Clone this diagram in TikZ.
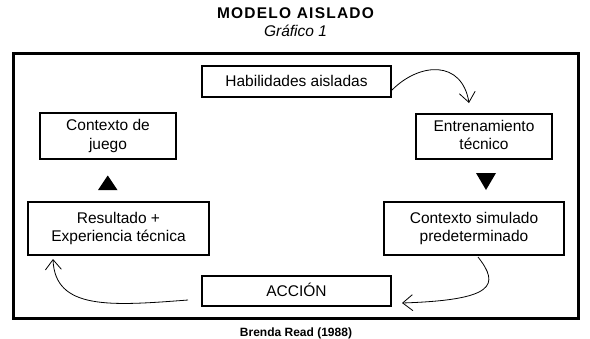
\documentclass[tikz,border=0pt]{standalone}
\usepackage{fontspec}
\setmainfont{Liberation Sans}
\usetikzlibrary{arrows.meta,calc}
\begin{document}
\begin{tikzpicture}[x=1pt,y=-1pt,
  box/.style={draw=black,line width=1.2pt,inner sep=0pt,outer sep=0pt,align=center,
    font=\fontsize{15.5}{18.5}\selectfont},
  onebox/.style={box,text height=10.5pt,text depth=0pt},
  flow/.style={line width=0.8pt,-{Straight Barb[length=10pt,width=16pt,line width=0.8pt]}},
  tri/.style={fill=black}]
\useasboundingbox (0,0) rectangle (590,338);
\node[anchor=base,font=\bfseries\fontsize{15.5}{18}\selectfont\addfontfeature{LetterSpace=8}] (title) at (295.5,18) {MODELO AISLADO};
\node[anchor=base,font=\itshape\fontsize{15.5}{18}\selectfont] (sub) at (295.5,36) {Gráfico 1};
\draw[line width=3pt] (13.8,53.7) rectangle (578.3,318.3);
\node[onebox,minimum width=189pt,minimum height=31pt] (hab) at (296.5,81.5) {Habilidades aisladas};
\node[box,minimum width=136pt,minimum height=46pt] (ctx) at (108,136) {Contexto de\\juego};
\node[box,minimum width=136pt,minimum height=45pt] (ent) at (484,136.5) {Entrenamiento\\técnico\vphantom{g}};
\node[box,minimum width=181pt,minimum height=53pt] (res) at (118.5,228.5) {Resultado +\\Experiencia técnica};
\node[box,minimum width=180pt,minimum height=53pt] (sim) at (474,228.5) {Contexto simulado\\predeterminado};
\node[onebox,minimum width=189pt,minimum height=30pt] (acc) at (296.5,291) {ACCIÓN};
\node[anchor=base,font=\bfseries\fontsize{12}{14}\selectfont] (cite) at (296,336) {Brenda Read (1988)};
\fill[tri] (98,190) -- (117.5,190) -- (107.75,175.5) -- cycle;
\fill[tri] (476,173) -- (496,173) -- (486,190) -- cycle;
\coordinate (a1s) at ($(hab.east)+(1,8.5)$);
\coordinate (a1e) at ($(ent.north)+(-15,-11)$);
\draw[flow] (a1s) .. controls (420,62) and (462,60) .. (a1e);
\coordinate (a2s) at ($(sim.south)+(4,2)$);
\coordinate (a2e) at ($(acc.east)+(11,12)$);
\draw[flow] (a2s) .. controls (500,285) and (495,300) .. (a2e);
\coordinate (a3s) at ($(acc.west)+(-14,9)$);
\coordinate (a3e) at ($(res.south west)+(25,4)$);
\draw[flow] (a3s) .. controls (110,306) and (55,310) .. (a3e);
\end{tikzpicture}
\end{document}
